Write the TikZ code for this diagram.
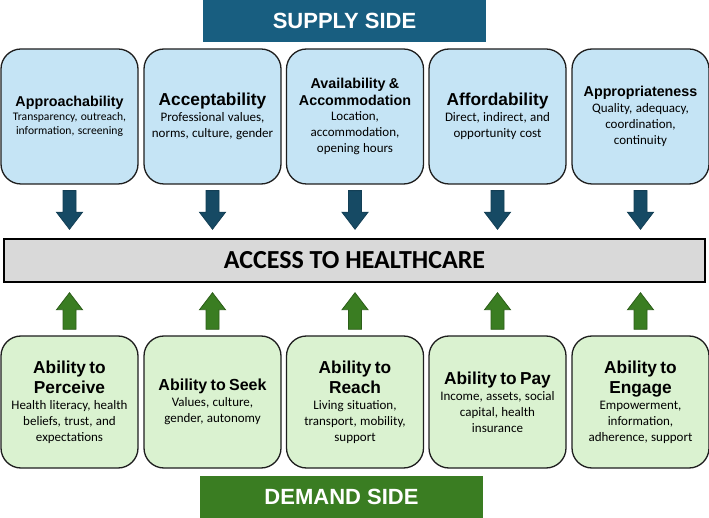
\documentclass[tikz,border=0pt]{standalone}
\usepackage{fontspec}
\setmainfont{Carlito}
\newfontfamily\headfont{Liberation Sans}
\usetikzlibrary{calc}

\definecolor{supplyblue}{RGB}{24,94,128}
\definecolor{supplyfill}{RGB}{197,228,245}
\definecolor{arrowblue}{RGB}{22,74,100}
\definecolor{demandgreen}{RGB}{58,125,34}
\definecolor{demandfill}{RGB}{218,242,208}
\definecolor{accessgray}{RGB}{217,217,217}
\definecolor{boxline}{RGB}{30,30,30}

% title and description lines inside the boxes
\newcommand\boxtitle[2][17.3]{{\headfont\bfseries\fontsize{#1}{\fpeval{#1*1.16}}\selectfont #2\par}}
\newcommand\boxdesc[2][13]{{\fontsize{#1}{\fpeval{#1*1.22}}\selectfont #2\par}}
% block arrow from #2 to #3
\newcommand\flowarrow[3]{%
	\coordinate (fa) at ($(#3)!17pt!(#2)$);
	\filldraw[#1] ($(#2)+(-6.5,0)$) -- ($(#2)+(6.5,0)$) -- ($(fa)+(6.5,0)$) -- ($(fa)+(13,0)$) -- (#3) -- ($(fa)+(-13,0)$) -- ($(fa)+(-6.5,0)$) -- cycle;
}

\tikzset{
	supplybox/.style={draw=boxline, line width=1.3pt, fill=supplyfill, rounded corners=20pt, minimum width=137pt, minimum height=135pt, text width=133pt, align=center, inner sep=2pt},
	demandbox/.style={supplybox, fill=demandfill, minimum height=132pt},
	banner/.style={minimum width=283pt, minimum height=42pt, inner sep=0pt, text=white, font=\headfont\bfseries\fontsize{22}{26}\selectfont},
	supplyarrow/.style={fill=arrowblue, draw=arrowblue!85!black, line width=0.8pt},
	demandarrow/.style={fill=demandgreen, draw=demandgreen!75!black, line width=0.8pt},
}

\begin{document}
\begin{tikzpicture}[x=1pt, y=-1pt]
	\useasboundingbox (0,0) rectangle (709,518);
	% banners
	\node[banner, fill=supplyblue] (supply) at (344.5,21) {SUPPLY SIDE};
	\node[banner, fill=demandgreen] (demand) at (341.5,497) {DEMAND SIDE};
	% middle bar
	\node[draw=black, line width=1.5pt, fill=accessgray, minimum width=701pt, minimum height=43pt, font=\bfseries\fontsize{26}{30}\selectfont] (access) at (354.5,260.5) {ACCESS TO HEALTHCARE};

	% supply side boxes
	\node[supplybox] (s1) at (69.5,116.5) {\boxtitle[14.3]{Approachability}\boxdesc[11.6]{Transparency, outreach,\\information, screening}};
	\node[supplybox] (s2) at (212.5,116.5) {\boxtitle{Acceptability}\boxdesc{Professional values,\\norms, culture, gender}};
	\node[supplybox] (s3) at (355,116.5) {\boxtitle[14.3]{Availability \&\\Accommodation}\boxdesc{Location,\\accommodation,\\opening hours}};
	\node[supplybox] (s4) at (497.5,116.5) {\boxtitle{Affordability}\boxdesc{Direct, indirect, and\\opportunity cost}};
	\node[supplybox] (s5) at (640.5,116.5) {\boxtitle[14.3]{Appropriateness}\boxdesc{Quality, adequacy,\\coordination,\\continuity}};

	% demand side boxes
	\node[demandbox] (d1) at (69.5,402) {\boxtitle{Ability to\\Perceive}\boxdesc{Health literacy, health\\beliefs, trust, and\\expectations}};
	\node[demandbox] (d2) at (212.5,402) {\boxtitle[16]{Ability to Seek}\boxdesc{Values, culture,\\gender, autonomy}};
	\node[demandbox] (d3) at (355,402) {\boxtitle{Ability to\\Reach}\boxdesc{Living situation,\\transport, mobility,\\support}};
	\node[demandbox] (d4) at (497.5,402) {\boxtitle{Ability to Pay}\boxdesc{Income, assets, social\\capital, health\\insurance}};
	\node[demandbox] (d5) at (640.5,402) {\boxtitle{Ability to\\Engage}\boxdesc{Empowerment,\\information,\\adherence, support}};

	% arrows into the bar
	\foreach \i in {1,...,5} {
		\coordinate (sa\i) at ($(s\i.south)+(0,6)$);
		\coordinate (sb\i) at ($(s\i.south |- access.north)+(0,-9)$);
		\flowarrow{supplyarrow}{sa\i}{sb\i}
		\coordinate (da\i) at ($(d\i.north)+(0,-6)$);
		\coordinate (db\i) at ($(d\i.north |- access.south)+(0,10)$);
		\flowarrow{demandarrow}{da\i}{db\i}
	}
\end{tikzpicture}
\end{document}
